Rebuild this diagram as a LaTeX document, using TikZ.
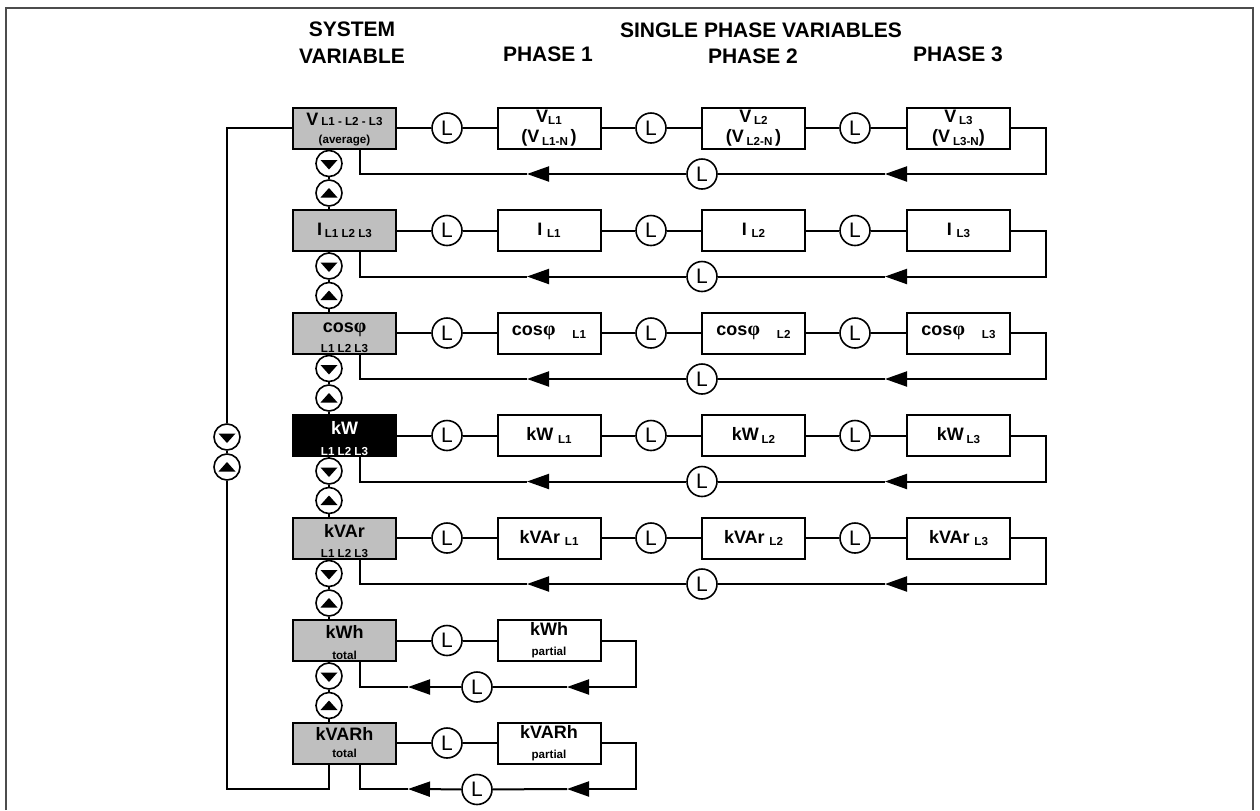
\documentclass[tikz,border=0pt]{standalone}
\usepackage{fontspec}
\setmainfont{Liberation Sans}
\newfontfamily\symbfont{Liberation Serif}
\usetikzlibrary{arrows.meta, positioning, calc}

\newcommand{\bigtxt}[1]{{\fontsize{9}{10}\selectfont\bfseries #1}}
\newcommand{\subtxt}[1]{{\fontsize{5.8}{6.5}\selectfont\bfseries #1}}
\newcommand{\lowsub}[1]{\raisebox{-1.2pt}{\subtxt{#1}}}
\newcommand{\cosphi}{\bigtxt{cos}{\fontsize{10}{10}\selectfont\symbfont φ}}
\newcommand{\topgap}[1]{\rule{0pt}{#1}}

\tikzset{
  sysbox/.style={draw, fill=black!25, line width=1pt, minimum width=51.5pt, minimum height=20.5pt, inner sep=0pt,
    align=center, font=\fontsize{8.5}{9.5}\selectfont\bfseries},
  phbox/.style={sysbox, fill=white},
  actbox/.style={sysbox, fill=black, text=white},
  lbtn/.style={circle, draw, fill=white, line width=0.8pt, minimum size=15pt, inner sep=0pt, font=\fontsize{10.5}{11}\selectfont},
  downbtn/.style={circle, draw, fill=white, line width=0.8pt, minimum size=13pt, inner sep=0pt,
    path picture={\fill[black, shift={(path picture bounding box.center)}] (-8.5,-3.5) -- (8.5,-3.5) -- (0,6) -- cycle;}},
  upbtn/.style={circle, draw, fill=white, line width=0.8pt, minimum size=13pt, inner sep=0pt,
    path picture={\fill[black, shift={(path picture bounding box.center)}] (-8.5,4.5) -- (8.5,4.5) -- (0,-5) -- cycle;}},
  hdr/.style={font=\fontsize{10.5}{13.5}\selectfont\bfseries, align=center, inner sep=0pt},
  ret/.style={-{Triangle[length=11pt, width=7.5pt]}}
}

\begin{document}
\begin{tikzpicture}[x=0.5pt, y=-0.5pt, line width=1pt]
    \useasboundingbox (0,0) rectangle (1260,810);
    \draw[black!70] (6,810) -- (6,8) -- (1253,8) -- (1253,810);

    % headers
    \node[hdr] (hsys) at (352,43) {SYSTEM\\VARIABLE};
    \node[hdr] (hsingle) at (761,30) {SINGLE PHASE VARIABLES};
    \node[hdr] (hph1) at (548,54) {PHASE 1};
    \node[hdr] (hph2) at (753,56) {PHASE 2};
    \node[hdr] (hph3) at (958,54) {PHASE 3};

    % system variables
    \node[sysbox] (s1) at (344.5,128) {\topgap{8pt}\bigtxt{V}\,\subtxt{L1 - L2 - L3}\\[-0.5pt]\subtxt{(average)}};
    \node[sysbox] (s2) at (344.5,230.5) {\bigtxt{I}\,\lowsub{L1 L2 L3}};
    \node[sysbox] (s3) at (344.5,333) {\topgap{9.5pt}\cosphi\\[0.8pt]\subtxt{L1 L2 L3}};
    \node[actbox] (s4) at (344.5,435.5) {\topgap{9.5pt}\bigtxt{kW}\\[0.8pt]\subtxt{L1 L2 L3}};
    \node[sysbox] (s5) at (344.5,538) {\topgap{9.5pt}\bigtxt{kVAr}\\[0.8pt]\subtxt{L1 L2 L3}};
    \node[sysbox] (s6) at (344.5,640.5) {\topgap{9pt}\bigtxt{kWh}\\[1pt]\subtxt{total}};
    \node[sysbox] (s7) at (344.5,743) {\bigtxt{kVARh}\\[-1pt]\subtxt{total}};

    % single phase variables
    \node[phbox] (pa1) at (549,128) {\bigtxt{V}\lowsub{L1}\\[0.8pt]\bigtxt{(V}\,\lowsub{L1-N}\,\bigtxt{)}};
    \node[phbox] (pb1) at (753.5,128) {\bigtxt{V}\,\lowsub{L2}\\[0.8pt]\bigtxt{(V}\,\lowsub{L2-N}\,\bigtxt{)}};
    \node[phbox] (pc1) at (958.5,128) {\bigtxt{V}\,\lowsub{L3}\\[0.8pt]\bigtxt{(V}\,\lowsub{L3-N}\bigtxt{)}};
    \node[phbox] (pa2) at (549,230.5) {\bigtxt{I}\ \lowsub{L1}};
    \node[phbox] (pb2) at (753.5,230.5) {\bigtxt{I}\ \lowsub{L2}};
    \node[phbox] (pc2) at (958.5,230.5) {\bigtxt{I}\ \lowsub{L3}};
    \node[phbox] (pa3) at (549,333) {\cosphi\quad\lowsub{L1}};
    \node[phbox] (pb3) at (753.5,333) {\cosphi\quad\lowsub{L2}};
    \node[phbox] (pc3) at (958.5,333) {\cosphi\quad\lowsub{L3}};
    \node[phbox] (pa4) at (549,435.5) {\bigtxt{kW}\ \lowsub{L1}};
    \node[phbox] (pb4) at (753.5,435.5) {\bigtxt{kW}\,\lowsub{L2}};
    \node[phbox] (pc4) at (958.5,435.5) {\bigtxt{kW}\,\lowsub{L3}};
    \node[phbox] (pa5) at (549,538) {\bigtxt{kVAr}\ \lowsub{L1}};
    \node[phbox] (pb5) at (753.5,538) {\bigtxt{kVAr}\ \lowsub{L2}};
    \node[phbox] (pc5) at (958.5,538) {\bigtxt{kVAr}\ \lowsub{L3}};
    \node[phbox] (pa6) at (549,640.5) {\bigtxt{kWh}\\[0.5pt]\subtxt{partial}};
    \node[phbox] (pa7) at (549,743) {\bigtxt{kVARh}\\[0.5pt]\subtxt{partial}};

    % L buttons along the rows
    \foreach \r/\y in {1/128, 2/230.5, 3/333, 4/435.5, 5/538} {
        \node[lbtn] (la\r) at (447,\y) {L};
        \node[lbtn] (lb\r) at (651,\y) {L};
        \node[lbtn] (lc\r) at (855,\y) {L};
        \node[lbtn] (lr\r) at (702,{\y+46}) {L};
        \draw (s\r) -- (la\r) -- (pa\r) -- (lb\r) -- (pb\r) -- (lc\r) -- (pc\r);
    }
    \foreach \r/\y in {6/640.5, 7/743} {
        \node[lbtn] (la\r) at (447,\y) {L};
        \node[lbtn] (lr\r) at (477,{\y+46.5}) {L};
        \draw (s\r) -- (la\r) -- (pa\r);
    }

    % return lines
    \foreach \r/\y/\last/\xe/\xa/\xb in {1/174/pc1/1046/885/527, 2/276.5/pc2/1046/885/527,
        3/379/pc3/1046/885/527, 4/481.5/pc4/1046/885/527, 5/584/pc5/1046/885/527,
        6/687/pa6/636/567/408, 7/789/pa7/636/567/408} {
        \coordinate (ce\r) at (\xe,\y);
        \coordinate (ta\r) at (\xa,\y);
        \coordinate (tb\r) at (\xb,\y);
        \coordinate (cw\r) at (360,\y);
        \draw[ret] (\last.east) -| (ce\r) -- (ta\r);
        \draw (ta\r) -- (lr\r);
        \draw[ret] (lr\r) -- (tb\r);
        \draw (tb\r) -- (cw\r) -- (cw\r |- s\r.south);
    }

    % scroll buttons between system variables
    \foreach \r/\n/\y in {1/2/128, 2/3/230.5, 3/4/333, 4/5/435.5, 5/6/538, 6/7/640.5} {
        \node[downbtn] (dn\r) at (329,{\y+35.5}) {};
        \node[upbtn] (up\r) at (329,{\y+65}) {};
        \draw (s\r.south -| dn\r) -- (dn\r) -- (up\r) -- (up\r |- s\n.north);
    }

    % outer loop
    \coordinate (lt) at (227,128);
    \coordinate (lb) at (227,789);
    \coordinate (lbr) at (329,789);
    \node[downbtn] (ldn) at (227,437) {};
    \node[upbtn] (lup) at (227,467) {};
    \draw (s1.west) -- (lt) -- (ldn) -- (lup) -- (lb) -- (lbr) -- (lbr |- s7.south);
\end{tikzpicture}
\end{document}
